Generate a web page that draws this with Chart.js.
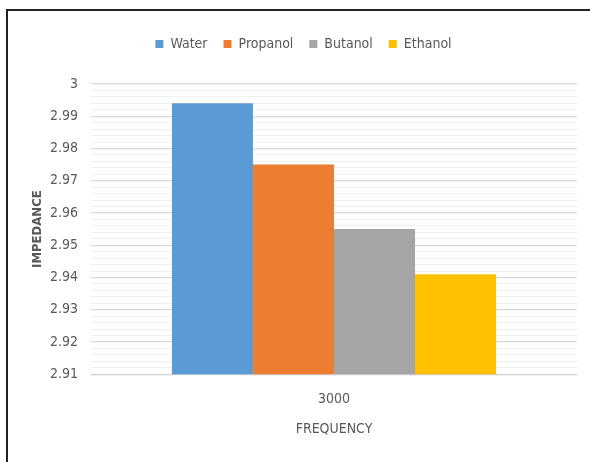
<!DOCTYPE html>
<html>
<head>
<meta charset="utf-8">
<script src="https://cdn.jsdelivr.net/npm/chart.js@4.4.0/dist/chart.umd.min.js"></script>
<style>
  html, body { margin: 0; padding: 0; background: #fff; overflow: hidden; }
  #c { display: block; }
</style>
</head>
<body>
<canvas id="c" width="590" height="462"></canvas>
<script>
const categories = ["3000"];
const seriesNames = ["Water", "Propanol", "Butanol", "Ethanol"];
const water = [2.994];
const propanol = [2.975];
const butanol = [2.955];
const ethanol = [2.941];
const yTickLabels = ["2.91","2.92","2.93","2.94","2.95","2.96","2.97","2.98","2.99","3"];

const colors = ["#5B9BD5", "#ED7D31", "#A5A5A5", "#FFC000"];
const FONT = "'Liberation Sans Narrow', 'DejaVu Sans Condensed', 'Liberation Sans', sans-serif";
const textColor = "#595959";

const seriesValues = [water, propanol, butanol, ethanol];

function isMajor(v) {
  return Math.abs(Math.round(v * 100) - v * 100) < 1e-6;
}

const framePlugin = {
  id: "frame",
  beforeDraw(chart) {
    const ctx = chart.ctx;
    ctx.save();
    ctx.fillStyle = "#fff";
    ctx.fillRect(0, 0, chart.width, chart.height);
    ctx.strokeStyle = "#222";
    ctx.lineWidth = 2;
    ctx.beginPath();
    ctx.moveTo(7, chart.height + 5);
    ctx.lineTo(7, 10);
    ctx.lineTo(chart.width + 5, 10);
    ctx.stroke();
    ctx.restore();
  }
};

const legendMargin = {
  id: "legendMargin",
  beforeInit(chart) {
    const orig = chart.legend.fit;
    chart.legend.fit = function () {
      orig.bind(chart.legend)();
      this.height += 23;
    };
  }
};

new Chart(document.getElementById("c"), {
  type: "bar",
  data: {
    labels: categories,
    datasets: seriesNames.map((n, i) => ({
      label: n,
      data: seriesValues[i],
      backgroundColor: colors[i],
      borderWidth: 0,
      categoryPercentage: 0.667,
      barPercentage: 1.0
    }))
  },
  plugins: [framePlugin, legendMargin],
  options: {
    responsive: false,
    animation: false,
    devicePixelRatio: 1,
    layout: { padding: { left: 30, right: 13, top: 21, bottom: 29 } },
    plugins: {
      legend: {
        position: "top",
        labels: {
          boxWidth: 8, boxHeight: 8, padding: 16,
          color: textColor,
          font: { family: FONT, size: 14 }
        }
      },
      tooltip: { enabled: false }
    },
    scales: {
      x: {
        grid: { display: false, drawTicks: false },
        border: { display: false },
        ticks: { color: textColor, font: { family: FONT, size: 14 }, padding: 17 },
        title: { display: true, text: "FREQUENCY", color: textColor,
                 font: { family: FONT, size: 14, lineHeight: 0.57 }, padding: { top: 0, bottom: 0 } }
      },
      y: {
        min: 2.91, max: 3,
        afterFit: (s) => { s.width = 61; },
        grid: {
          drawTicks: false,
          color: (ctx) => {
            const v = ctx.tick ? ctx.tick.value : 0;
            if (Math.abs(v - 2.91) < 1e-6) return "#d0d0d0";
            return isMajor(v) ? "#d9d9d9" : "#f0f0f0";
          },
          lineWidth: (ctx) => {
            const v = ctx.tick ? ctx.tick.value : 0;
            return isMajor(v) ? 1.3 : 1;
          }
        },
        border: { display: false },
        ticks: {
          stepSize: 0.002,
          autoSkip: false,
          padding: 13,
          color: textColor,
          font: { family: FONT, size: 14 },
          callback: (v) => {
            if (!isMajor(v)) return "";
            const s = Number(v.toFixed(2)).toString();
            return yTickLabels.includes(s) ? s : "";
          }
        },
        title: { display: true, text: "IMPEDANCE", color: textColor,
                 font: { family: FONT, size: 13, weight: "bold" }, padding: { top: 0, bottom: 0 } }
      }
    }
  }
});
</script>
</body>
</html>
